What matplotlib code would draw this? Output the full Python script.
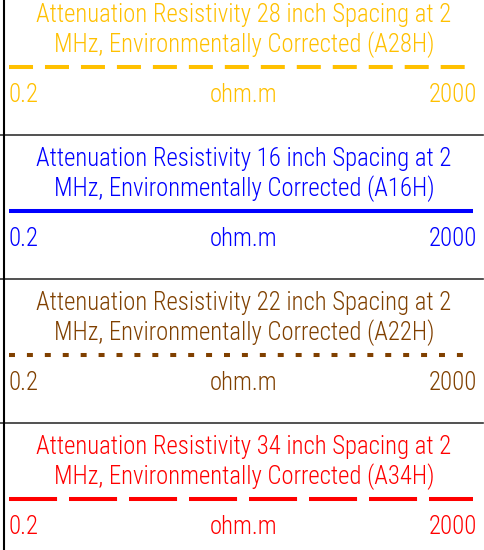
import matplotlib
matplotlib.use("Agg")
import matplotlib.pyplot as plt

plt.rcParams['font.family'] = ['Roboto Condensed', 'DejaVu Sans']
plt.rcParams['font.weight'] = 'light'
plt.rcParams['lines.scale_dashes'] = False

# curve header data, top to bottom
titles = ["Attenuation Resistivity 28 inch Spacing at 2",
          "Attenuation Resistivity 16 inch Spacing at 2",
          "Attenuation Resistivity 22 inch Spacing at 2",
          "Attenuation Resistivity 34 inch Spacing at 2"]
subtitles = ["MHz, Environmentally Corrected (A28H)",
             "MHz, Environmentally Corrected (A16H)",
             "MHz, Environmentally Corrected (A22H)",
             "MHz, Environmentally Corrected (A34H)"]
colors = ["#FFC000", "#0000FF", "#804000", "#FF0000"]
scale_min = ["0.2", "0.2", "0.2", "0.2"]
scale_max = ["2000", "2000", "2000", "2000"]
units = ["ohm.m", "ohm.m", "ohm.m", "ohm.m"]
# dash patterns in points (None = solid)
dashes = [(17.3, 8.6), None, (4.3, 8.6), (34.6, 8.6)]

W, H = 484, 550
fig = plt.figure(figsize=(W / 100, H / 100), dpi=100)
ax = fig.add_axes([0, 0, 1, 1])
ax.set_xlim(0, W)
ax.set_ylim(H, 0)
ax.axis('off')

panel_h = 144
top0 = -10
x0, x1 = 9, 473
fs_title = 17.8
fs_scale = 17.8

for i in range(len(titles)):
    T = top0 + i * panel_h
    c = colors[i]
    ax.text(244, T + 32, titles[i], color=c, fontsize=fs_title, ha='center', va='baseline')
    ax.text(244, T + 62, subtitles[i], color=c, fontsize=fs_title, ha='center', va='baseline')
    ln, = ax.plot([x0, x1], [T + 77, T + 77], color=c, lw=2.9, solid_capstyle='butt',
                  dash_capstyle='butt')
    if dashes[i] is not None:
        ln.set_dashes(dashes[i])
    ax.text(x0, T + 112, scale_min[i], color=c, fontsize=fs_scale, ha='left', va='baseline')
    ax.text(244, T + 112, units[i], color=c, fontsize=fs_scale, ha='center', va='baseline')
    ax.text(477, T + 112, scale_max[i], color=c, fontsize=fs_scale, ha='right', va='baseline')
    if i < len(titles) - 1:
        ax.plot([0, 483], [T + panel_h + 0.5, T + panel_h + 0.5], color='#333333', lw=1.2)

ax.plot([4, 4], [0, H], color='black', lw=1.5)

fig.savefig("out.png", dpi=100)
